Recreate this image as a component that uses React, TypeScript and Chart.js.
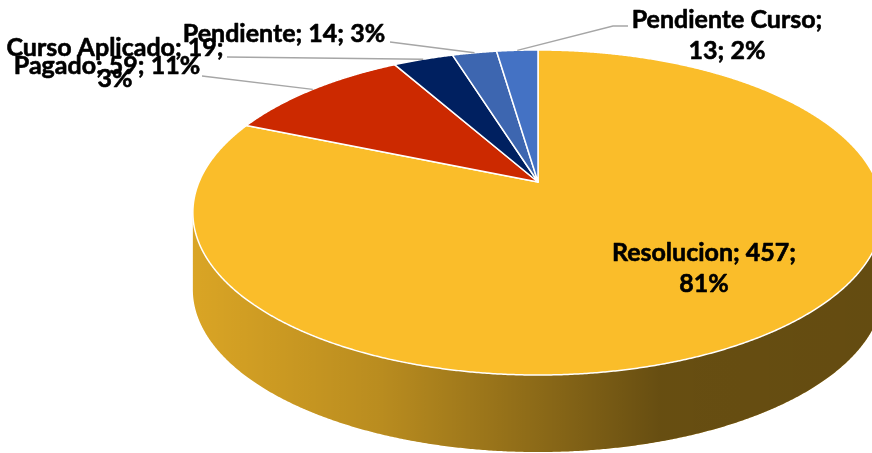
import React, { useEffect, useRef } from "react";
import { Chart, registerables } from "chart.js";

Chart.register(...registerables);

// ---- data ----
const categories = ["Resolucion", "Pagado", "Curso Aplicado", "Pendiente", "Pendiente Curso"];
const values = [457, 59, 19, 14, 13];
const percentLabels = ["81%", "11%", "3%", "3%", "2%"];
const sliceColors = ["#FABD2A", "#CC2900", "#002060", "#3D66B0", "#4472C4"];

// ---- layout (label placement as in the reference) ----
// where the label text breaks: "value" => "Name; v;" / "p%", "name" => "Name;" / "v; p%", "none" => single line
const labelBreaks = ["value", "none", "value", "none", "name"];
const labelCenters: [number, number][] = [
  [704, 261],
  [107, 74],
  [115, 56],
  [284, 42],
  [727, 28],
];
const LINE_H = 31;
// leader line points on the label side (null = no leader)
const leaderStarts: ([number, number][] | null)[] = [
  null,
  [[202, 76]],
  [[227, 57]],
  [[390, 42]],
  [[628, 26], [613, 26]],
];

// ---- 3D view parameters ----
const K = 0.1877; // perspective strength
const YR = 0.4625; // vertical flattening
const DEPTH = 77; // side wall height
const WALL_SHADE = [
  [0, 0.13],
  [0.271, 0.26],
  [0.488, 0.43],
  [0.677, 0.59],
  [1, 0.6],
];

function proj(cx: number, cy: number, R: number, rf: number, t: number): [number, number] {
  const X = rf * Math.cos(t);
  const Y = rf * Math.sin(t);
  const w = 1 - K * Y;
  return [cx + (R * X) / w, cy + (R * YR * Y) / w];
}

function arcPoints(cx: number, cy: number, R: number, a: number, b: number) {
  const pts: [number, number][] = [];
  const steps = Math.max(2, Math.ceil((b - a) / 0.005));
  for (let i = 0; i <= steps; i++) pts.push(proj(cx, cy, R, 1, a + ((b - a) * i) / steps));
  return pts;
}

function labelLinesFor(i: number): string[] {
  const name = categories[i];
  const v = values[i];
  const p = percentLabels[i];
  const br = labelBreaks[i];
  if (br === "value") return [`${name}; ${v};`, p];
  if (br === "name") return [`${name};`, `${v}; ${p}`];
  return [`${name}; ${v}; ${p}`];
}

const pie3d = {
  id: "pie3d",
  beforeDatasetsDraw(chart: any) {
    const ctx: CanvasRenderingContext2D = chart.ctx;
    const arcs = chart.getDatasetMeta(0).data;
    const ta = Math.asin(K);
    const tb = Math.PI - ta;
    ctx.save();
    // side walls (front visible part)
    arcs.forEach((arc: any) => {
      const { x, y, startAngle, endAngle, outerRadius } = arc.getProps(
        ["x", "y", "startAngle", "endAngle", "outerRadius"],
        true
      );
      for (let n = -1; n <= 2; n++) {
        const a = Math.max(startAngle, ta + 2 * Math.PI * n);
        const b = Math.min(endAngle, tb + 2 * Math.PI * n);
        if (b <= a) continue;
        const pts = arcPoints(x, y, outerRadius, a, b);
        ctx.beginPath();
        pts.forEach((p, i) => (i ? ctx.lineTo(p[0], p[1]) : ctx.moveTo(p[0], p[1])));
        for (let i = pts.length - 1; i >= 0; i--) ctx.lineTo(pts[i][0], pts[i][1] + DEPTH);
        ctx.closePath();
        ctx.fillStyle = arc.options.backgroundColor;
        ctx.fill();
        const ext = outerRadius * 1.018;
        const g = ctx.createLinearGradient(x - ext, 0, x + ext, 0);
        WALL_SHADE.forEach(([s, al]) => g.addColorStop(s, `rgba(0,0,0,${al})`));
        ctx.fillStyle = g;
        ctx.fill();
      }
    });
    // top faces
    arcs.forEach((arc: any) => {
      const { x, y, startAngle, endAngle, outerRadius } = arc.getProps(
        ["x", "y", "startAngle", "endAngle", "outerRadius"],
        true
      );
      const pts = arcPoints(x, y, outerRadius, startAngle, endAngle);
      ctx.beginPath();
      ctx.moveTo(x, y);
      pts.forEach((p) => ctx.lineTo(p[0], p[1]));
      ctx.closePath();
      ctx.fillStyle = arc.options.backgroundColor;
      ctx.fill();
      ctx.lineJoin = "round";
      ctx.lineWidth = arc.options.borderWidth;
      ctx.strokeStyle = arc.options.borderColor;
      ctx.stroke();
    });
    ctx.restore();
    return false;
  },
  afterDraw(chart: any) {
    const ctx: CanvasRenderingContext2D = chart.ctx;
    const arcs = chart.getDatasetMeta(0).data;
    ctx.save();
    // leader lines
    arcs.forEach((arc: any, i: number) => {
      const starts = leaderStarts[i];
      if (!starts) return;
      const { x, y, startAngle, endAngle, outerRadius } = arc.getProps(
        ["x", "y", "startAngle", "endAngle", "outerRadius"],
        true
      );
      const end = proj(x, y, outerRadius, 1, (startAngle + endAngle) / 2);
      ctx.beginPath();
      starts.forEach((p, j) => (j ? ctx.lineTo(p[0], p[1]) : ctx.moveTo(p[0], p[1])));
      ctx.lineTo(end[0], end[1]);
      ctx.strokeStyle = "#A6A6A6";
      ctx.lineWidth = 1.3;
      ctx.stroke();
    });
    // labels
    ctx.font = "bold 25px Lato";
    ctx.fillStyle = "#000000";
    ctx.strokeStyle = "#000000";
    ctx.lineWidth = 0.6;
    ctx.lineJoin = "round";
    ctx.textAlign = "center";
    ctx.textBaseline = "alphabetic";
    categories.forEach((_, i) => {
      const lines = labelLinesFor(i);
      const [lx, ly] = labelCenters[i];
      lines.forEach((t, j) => {
        ctx.fillText(t, lx, ly + j * LINE_H);
        ctx.strokeText(t, lx, ly + j * LINE_H);
      });
    });
    ctx.restore();
  },
};

export default function App() {
  const ref = useRef<HTMLCanvasElement | null>(null);
  useEffect(() => {
    if (!ref.current) return;
    const chart = new Chart(ref.current, {
      type: "pie",
      data: {
        labels: categories,
        datasets: [
          {
            data: values,
            backgroundColor: sliceColors,
            borderColor: "#FFFFFF",
            borderWidth: 1.5,
          },
        ],
      },
      options: {
        responsive: false,
        maintainAspectRatio: false,
        animation: false,
        devicePixelRatio: 1,
        events: [],
        radius: 339,
        layout: { padding: { left: 204, right: 0, top: 0, bottom: 89 } },
        plugins: {
          legend: { display: false },
          tooltip: { enabled: false },
          title: { display: false },
        },
      } as any,
      plugins: [pie3d],
    });
    return () => chart.destroy();
  }, []);
  return (
    <div style={{ position: "fixed", left: 0, top: 0, width: 872, height: 453, background: "#fff" }}>
      <canvas ref={ref} width={872} height={453} style={{ display: "block" }} />
    </div>
  );
}
